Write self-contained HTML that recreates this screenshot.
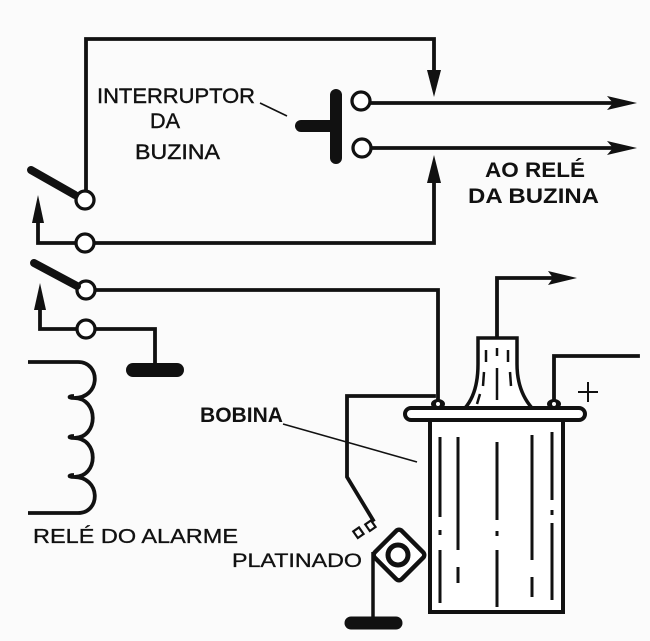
<!DOCTYPE html>
<html><head><meta charset="utf-8"><style>
html,body{margin:0;padding:0;background:#fff;}
svg{display:block;}
text{font-family:"Liberation Sans",Arial,sans-serif;fill:#111;}
</style></head><body>
<svg width="650" height="641" viewBox="0 0 650 641" xmlns="http://www.w3.org/2000/svg">
<rect width="650" height="641" fill="#fbfbfb"/>
<g stroke="#111" fill="none" stroke-width="3.8" stroke-linecap="square">
  <!-- top loop -->
  <polyline points="86,191 86,39 434,39 434,72"/>
  <polygon points="427,70 441,70 434,97" fill="#111" stroke="none"/>
  <!-- second loop -->
  <polyline points="94,243 434,243 434,182"/>
  <polygon points="427,183 441,183 434,155" fill="#111" stroke="none"/>
  <!-- left arrow 1 -->
  <polyline points="76,243 38,243 38,222"/>
  <polygon points="32,223 44,223 38,195" fill="#111" stroke="none"/>
  <!-- third line -->
  <polyline points="95,290 438,290 438,400"/>
  <!-- left arrow 2 -->
  <polyline points="40,310 40,329 77,329"/>
  <polygon points="34,310 46,310 40,283" fill="#111" stroke="none"/>
  <polyline points="95,329 155,329 155,365"/>
  <!-- output lines to right -->
  <line x1="370" y1="103" x2="612" y2="103"/>
  <polygon points="607,96 637,103 607,110 613,103" fill="#111" stroke="none"/>
  <line x1="371" y1="148" x2="612" y2="148"/>
  <polygon points="607,141 637,148 607,155 613,148" fill="#111" stroke="none"/>
  <!-- HV wire -->
  <polyline points="497,338 497,278 552,278"/>
  <polygon points="548,271 577,278 548,285 553,278" fill="#111" stroke="none"/>
  <!-- right terminal wire -->
  <polyline points="554,402 554,356 638,356"/>
  <!-- left terminal wire to platinado -->
  <polyline points="434,396 347,396 347,477 373,520" stroke-linejoin="miter"/>
</g>
<!-- circles -->
<g stroke="#111" stroke-width="3.3" fill="#fff">
  <circle cx="85" cy="200" r="9"/>
  <circle cx="85" cy="243" r="9"/>
  <circle cx="86" cy="290" r="9"/>
  <circle cx="86" cy="329" r="9"/>
  <circle cx="361" cy="101" r="9"/>
  <circle cx="362" cy="148" r="9"/>
</g>
<!-- levers -->
<g stroke="#111" stroke-width="8" stroke-linecap="round">
  <line x1="31" y1="170" x2="75" y2="195"/>
  <line x1="34" y1="263" x2="77" y2="286"/>
</g>
<!-- ground 1 -->
<line x1="133" y1="370" x2="177" y2="370" stroke="#111" stroke-width="14" stroke-linecap="round"/>
<!-- push button -->
<line x1="301" y1="126" x2="334" y2="126" stroke="#111" stroke-width="12" stroke-linecap="round"/>
<line x1="336" y1="95" x2="336" y2="158" stroke="#111" stroke-width="12" stroke-linecap="round"/>
<!-- leaders -->
<line x1="260" y1="103" x2="287" y2="116" stroke="#111" stroke-width="1.6"/>
<line x1="283" y1="424" x2="417" y2="462" stroke="#111" stroke-width="1.6"/>
<!-- relay coil -->
<path d="M28,362 H78 C101,362 101,398 74,398 C68,398 68,396 74,396 M74,398 C99,398 99,438 74,438 C68,438 68,436 74,436 M74,438 C99,438 99,477 74,477 C68,477 68,475 74,475 M74,477 C101,477 101,513 78,513 H28" stroke="#111" stroke-width="3.8" fill="none"/>
<!-- coil body -->
<rect x="430" y="420" width="133" height="192" stroke="#111" stroke-width="4" fill="#fff"/>
<g stroke="#111" stroke-width="3">
  <line x1="440" y1="437" x2="440" y2="517"/><line x1="440" y1="530" x2="440" y2="535"/><line x1="440" y1="550" x2="440" y2="603"/>
  <line x1="458" y1="437" x2="458" y2="550"/><line x1="458" y1="567" x2="458" y2="583"/>
  <line x1="497" y1="442" x2="497" y2="520"/><line x1="497" y1="531" x2="497" y2="536"/><line x1="497" y1="550" x2="497" y2="607"/>
  <line x1="532" y1="435" x2="532" y2="560"/><line x1="532" y1="577" x2="532" y2="597"/>
  <line x1="552" y1="432" x2="552" y2="500"/><line x1="552" y1="510" x2="552" y2="515"/><line x1="552" y1="523" x2="552" y2="600"/>
</g>
<!-- HV cap -->
<path d="M478,338 H517 V364 C517,386 525,400 532,408 H465 C472,400 478,386 478,364 Z" stroke="#111" stroke-width="3.5" fill="#fff"/>
<g stroke="#111" stroke-width="2.5">
  <line x1="486" y1="350" x2="486" y2="362"/><line x1="484" y1="372" x2="483" y2="386"/><line x1="480" y1="394" x2="477" y2="404"/>
  <line x1="497" y1="348" x2="497" y2="356"/><line x1="497" y1="368" x2="497" y2="400"/>
  <line x1="508" y1="350" x2="508" y2="362"/><line x1="510" y1="372" x2="511" y2="386"/>
</g>
<!-- plate -->
<rect x="405" y="408" width="180" height="12" rx="6" stroke="#111" stroke-width="4" fill="#fff"/>
<!-- terminals -->
<g>
  <ellipse cx="438" cy="404" rx="7" ry="5" fill="#111"/>
  <circle cx="438" cy="404" r="2" fill="#fff"/>
  <ellipse cx="554" cy="404" rx="7" ry="5" fill="#111"/>
  <circle cx="554" cy="404" r="2" fill="#fff"/>
</g>
<!-- plus -->
<g stroke="#111" stroke-width="2">
  <line x1="578" y1="392" x2="598" y2="392"/><line x1="588" y1="382" x2="588" y2="402"/>
</g>
<!-- platinado -->
<g stroke="#111" stroke-width="2.2" fill="#fff">
  <rect x="355" y="529" width="7" height="8" transform="rotate(-35 358 533)"/>
  <rect x="367" y="522" width="7" height="8" transform="rotate(-35 370 526)"/>
</g>
<rect x="380" y="536" width="38" height="38" rx="4" transform="rotate(45 399 555)" stroke="#111" stroke-width="4.5" fill="#fff"/>
<circle cx="398" cy="555" r="10" stroke="#111" stroke-width="5" fill="#fff"/>
<line x1="373" y1="552" x2="373" y2="620" stroke="#111" stroke-width="3.5"/>
<line x1="351" y1="623" x2="396" y2="623" stroke="#111" stroke-width="13" stroke-linecap="round"/>
<!-- text -->
<text x="97" y="103" font-size="21" textLength="158" lengthAdjust="spacingAndGlyphs" stroke="#111" stroke-width="0.4">INTERRUPTOR</text>
<text x="150" y="128" font-size="21" textLength="30" lengthAdjust="spacingAndGlyphs" stroke="#111" stroke-width="0.4">DA</text>
<text x="135" y="159" font-size="21" textLength="85" lengthAdjust="spacingAndGlyphs" stroke="#111" stroke-width="0.4">BUZINA</text>
<text x="485" y="177" font-size="21" font-weight="bold" textLength="100" lengthAdjust="spacingAndGlyphs">AO RELÉ</text>
<text x="468" y="203" font-size="21" font-weight="bold" textLength="131" lengthAdjust="spacingAndGlyphs">DA BUZINA</text>
<text x="200" y="422" font-size="21" font-weight="bold" textLength="83" lengthAdjust="spacingAndGlyphs">BOBINA</text>
<text x="33" y="543" font-size="20" textLength="205" lengthAdjust="spacingAndGlyphs" stroke="#111" stroke-width="0.3">RELÉ DO ALARME</text>
<text x="232" y="567" font-size="19.5" textLength="130" lengthAdjust="spacingAndGlyphs" stroke="#111" stroke-width="0.3">PLATINADO</text>
</svg>
</body></html>
